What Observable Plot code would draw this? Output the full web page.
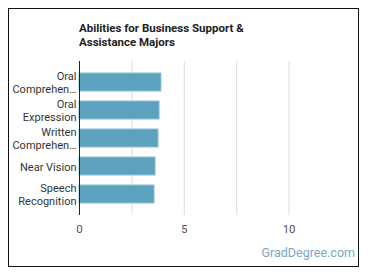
<!DOCTYPE html>
<html>
<head>
<meta charset="utf-8">
<script src="https://cdn.jsdelivr.net/npm/d3@7"></script>
<script src="https://cdn.jsdelivr.net/npm/@observablehq/plot@0.6"></script>
<style>
  html, body { margin: 0; padding: 0; background: #fff; }
  #wrap { position: relative; width: 370px; height: 278px; overflow: hidden; font-family: Roboto, "Noto Sans", sans-serif; }
  #frame { position: absolute; left: 8px; top: 8px; width: 349px; height: 257px; border: 1px solid #111; }
  #title { position: absolute; left: 79px; top: 21px; font-size: 11.5px; font-weight: bold; line-height: 14px; color: #222; }
  #brand { position: absolute; right: 15px; top: 245px; font-size: 12.5px; color: #7aa8c4; }
  #chart { position: absolute; left: 0; top: 0; }
</style>
</head>
<body>
<div id="wrap">
  <div id="frame"></div>
  <div id="chart"></div>
  <div id="title">Abilities for Business Support &amp;<br>Assistance Majors</div>
  <div id="brand">GradDegree.com</div>
</div>
<script>
const categories = ["Oral Comprehension", "Oral Expression", "Written Comprehension", "Near Vision", "Speech Recognition"];
const tickLabels = ["Oral\nComprehen…", "Oral\nExpression", "Written\nComprehen…", "Near Vision", "Speech\nRecognition"];
const values = [3.91, 3.82, 3.77, 3.63, 3.58];
const xTicks = [0, 5, 10];
const gridTicks = [2.5, 5, 7.5, 10];

const data = categories.map((c, i) => ({category: c, value: values[i]}));
const labelOf = new Map(categories.map((c, i) => [c, tickLabels[i]]));

const chart = Plot.plot({
  width: 370,
  height: 278,
  marginLeft: 79,
  marginRight: 29,
  marginTop: 61,
  marginBottom: 63,
  style: {fontFamily: "Roboto, 'Noto Sans', sans-serif", background: "transparent"},
  x: {domain: [0, 12.5], axis: null},
  y: {domain: categories, padding: 0.37, axis: null},
  marks: [
    Plot.ruleX(gridTicks, {stroke: "#ddd", strokeWidth: 1}),
    Plot.barX(data, {y: "category", x: "value", fill: "#5ca1be", stroke: "#8fc0d4", strokeWidth: 1}),
    Plot.ruleX([0], {stroke: "#222", strokeWidth: 1}),
    Plot.axisY({tickSize: 0, tickPadding: 3, tickFormat: d => labelOf.get(d), fontSize: 11, fill: "#333", lineHeight: 1.15, label: null}),
    Plot.axisX(xTicks, {tickSize: 0, tickPadding: 9, fontSize: 11.5, fill: "#555", label: null})
  ]
});
document.getElementById("chart").appendChild(chart);
</script>
</body>
</html>
